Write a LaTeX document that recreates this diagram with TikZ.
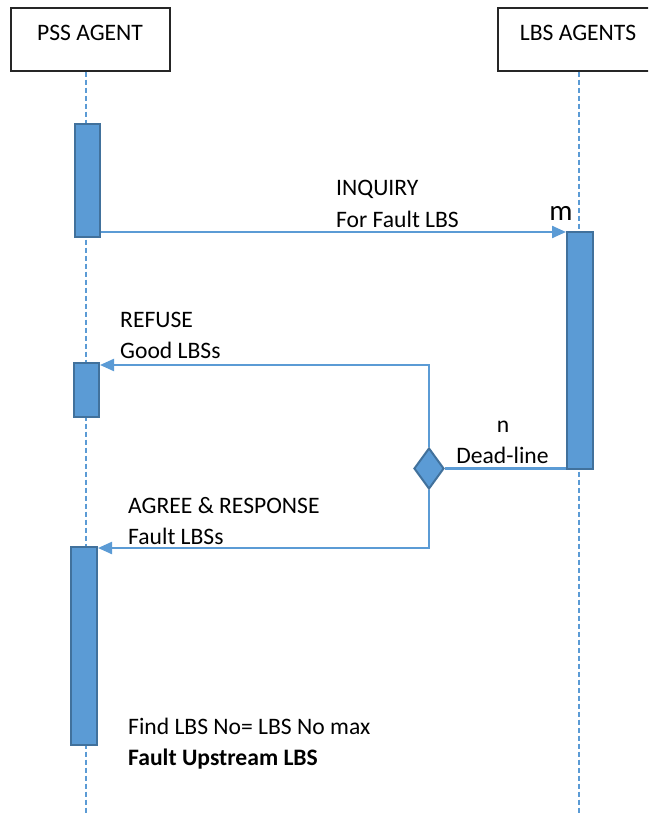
\documentclass[tikz,border=0pt]{standalone}
\usepackage{fontspec}
\setmainfont{Carlito}
\usetikzlibrary{arrows.meta,shapes.geometric}
\definecolor{bluefill}{HTML}{5B9BD5}
\definecolor{blueedge}{HTML}{41719C}
\definecolor{bluelife}{HTML}{5B9BD5}
\tikzset{
  agentbox/.style={draw=black!85, line width=1.3pt, fill=white, inner sep=0pt},
  actbar/.style={draw=blueedge, fill=bluefill, line width=2pt, inner sep=0pt, rectangle},
  decision/.style={diamond, draw=blueedge, fill=bluefill, line width=2pt, inner sep=0pt, minimum width=30pt, minimum height=41pt},
  lifeline/.style={draw=bluelife, line width=1.2pt, dash pattern=on 5pt off 3pt},
  msg/.style={draw=bluefill, line width=2.2pt, -{Triangle[length=14pt,width=12pt]}},
  plainmsg/.style={draw=bluefill, line width=2.2pt},
  lbl/.style={inner sep=0pt, anchor=base west},
  clbl/.style={inner sep=0pt, anchor=base}
}
\begin{document}
\begin{tikzpicture}[x=1pt,y=-1pt, font=\fontsize{23.6}{28}\selectfont]
\useasboundingbox (0,0) rectangle (648,813);
\clip (0,0) rectangle (648,813);
% agent boxes
\node[agentbox, minimum width=159pt, minimum height=63pt] (pss) at (90.5,39.5) {};
\node[agentbox, minimum width=162pt, minimum height=63pt] (lbs) at (579,39.5) {};
\node[clbl] (psst) at (90,41) {PSS AGENT};
\node[clbl] (lbst) at (578,41) {LBS AGENTS};
% lifelines
\coordinate (pssend) at (86,813);
\coordinate (lbsend) at (579,813);
\draw[lifeline] (pss.south -| pssend) -- (pssend);
\draw[lifeline] (lbs.south) -- (lbsend);
% activation bars
\node[actbar, minimum width=25pt, minimum height=113pt] (b1) at (87.5,180.5) {};
\node[actbar, minimum width=26pt, minimum height=237pt] (bL) at (580,350.5) {};
\node[actbar, minimum width=25pt, minimum height=54pt] (b2) at (86.5,390) {};
\node[actbar, minimum width=26pt, minimum height=198pt] (b3) at (84,646) {};
% decision
\node[decision] (dia) at (429,468.5) {};
% levels
\coordinate (yinq) at (0,232);
\coordinate (yref) at (0,365);
\coordinate (yagr) at (0,548);
% messages
\draw[msg] (b1.east |- yinq) -- (bL.west |- yinq);
\draw[msg] (dia.north) |- (b2.east |- yref);
\draw[msg] (dia.south) |- (b3.east |- yagr);
\draw[plainmsg] (dia.east) -- (bL.west |- dia.east);
% labels
\node[lbl] (t1) at (336,196) {INQUIRY};
\node[lbl] (t2) at (336,227) {For Fault LBS};
\node[clbl, font=\fontsize{29}{34}\selectfont] (tm) at (561,220) {m};
\node[lbl] (t3) at (120,327) {REFUSE};
\node[lbl] (t4) at (120,358) {Good LBSs};
\node[clbl] (tn) at (503,432) {n};
\node[clbl] (t5) at (502.5,463) {Dead-line};
\node[lbl] (t6) at (128,513) {AGREE \& RESPONSE};
\node[lbl] (t7) at (128,544) {Fault LBSs};
\node[lbl] (t8) at (128,734) {Find LBS No= LBS No max};
\node[lbl] (t9) at (128,765) {\bfseries Fault Upstream LBS};
\end{tikzpicture}
\end{document}
